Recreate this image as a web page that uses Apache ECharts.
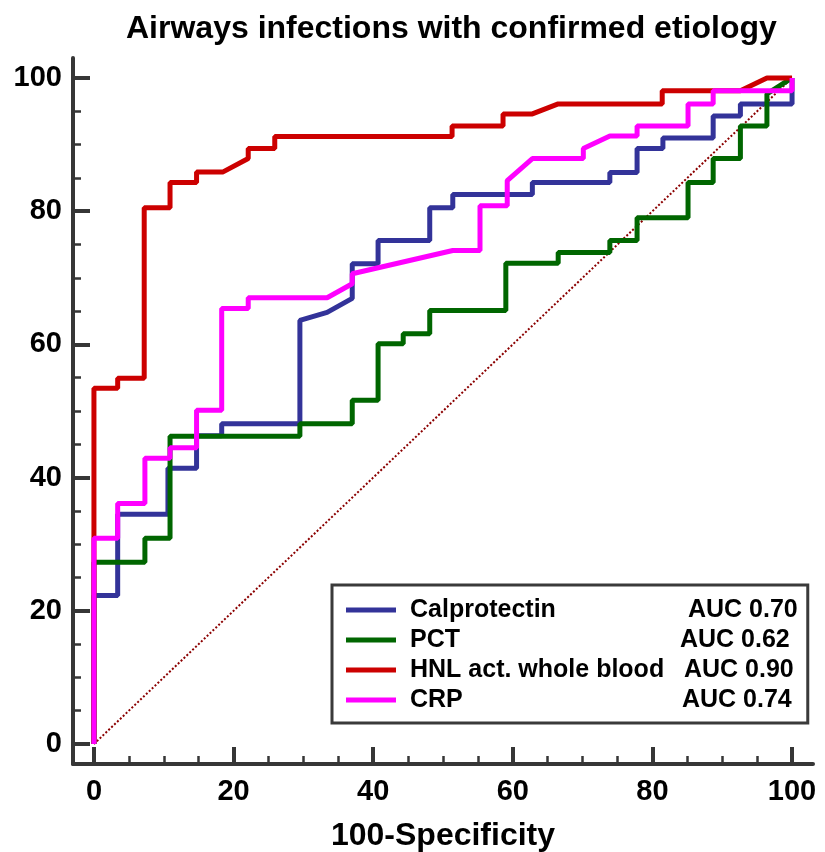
<!DOCTYPE html>
<html>
<head>
<meta charset="utf-8">
<script src="https://cdn.jsdelivr.net/npm/echarts@6/dist/echarts.min.js"></script>
<style>html,body{margin:0;padding:0;background:#fff}#c{width:825px;height:852px}</style>
</head>
<body>
<div id="c"></div>
<script>
const chartTitle = 'Airways infections with confirmed etiology';
const xAxisName = '100-Specificity';
const majorTicks = [0, 20, 40, 60, 80, 100];
const minorTicks = [5, 10, 15, 25, 30, 35, 45, 50, 55, 65, 70, 75, 85, 90, 95];
const seriesNames = ['Calprotectin', 'PCT', 'HNL act. whole blood', 'CRP'];
const aucLabels = ['AUC 0.70', 'AUC 0.62', 'AUC 0.90', 'AUC 0.74'];
const seriesColors = ['#333399', '#006600', '#cc0000', '#ff00ff'];

const calprotectin = [[0,0],[0,22.3],[3.4,22.3],[3.4,34.5],[10.6,34.5],[10.6,41.4],[14.7,41.4],[14.7,46.3],[18.3,46.3],[18.3,48.1],[29.5,48.1],[29.5,63.6],[33.4,64.8],[37.0,66.9],[37.0,72.1],[40.7,72.1],[40.7,75.6],[48.1,75.6],[48.1,80.5],[51.4,80.5],[51.4,82.5],[62.8,82.5],[62.8,84.3],[73.9,84.3],[73.9,85.8],[77.8,85.8],[77.8,89.4],[81.5,89.4],[81.5,91.0],[88.7,91.0],[88.7,94.3],[92.6,94.3],[92.6,96.1],[100,96.1],[100,100]];
const pct = [[0,0],[0,27.3],[7.3,27.3],[7.3,30.9],[10.9,30.9],[10.9,46.2],[29.5,46.2],[29.5,48.1],[37.0,48.1],[37.0,51.6],[40.7,51.6],[40.7,60.1],[44.3,60.1],[44.3,61.6],[48.1,61.6],[48.1,65.1],[59.0,65.1],[59.0,72.2],[66.5,72.2],[66.5,73.8],[73.9,73.8],[73.9,75.6],[77.8,75.6],[77.8,79.0],[85.1,79.0],[85.1,84.3],[88.7,84.3],[88.7,87.9],[92.6,87.9],[92.6,92.8],[96.4,92.8],[96.4,97.6],[100,100]];
const hnl = [[0,0],[0,53.4],[3.4,53.4],[3.4,54.9],[7.2,54.9],[7.2,80.5],[10.9,80.5],[10.9,84.3],[14.7,84.3],[14.7,85.9],[18.5,85.9],[22.1,87.9],[22.1,89.4],[25.9,89.4],[25.9,91.2],[51.3,91.2],[51.3,92.8],[58.6,92.8],[58.6,94.6],[62.8,94.6],[66.5,96.1],[81.4,96.1],[81.4,98.1],[92.6,98.1],[96.4,100],[100,100]];
const crp = [[0,0],[0,30.9],[3.4,30.9],[3.4,36.1],[7.3,36.1],[7.3,42.9],[10.9,42.9],[10.9,44.5],[14.7,44.5],[14.7,50.1],[18.3,50.1],[18.3,65.4],[22.1,65.4],[22.1,67.0],[33.4,67.0],[37.0,69.1],[37.0,70.6],[51.4,74.1],[55.3,74.1],[55.3,80.8],[59.2,80.8],[59.2,84.6],[62.8,87.9],[70.1,87.9],[70.1,89.4],[73.9,91.3],[77.8,91.3],[77.8,92.8],[85.1,92.8],[85.1,96.1],[88.7,96.1],[88.7,98.1],[100,98.1],[100,100]];
const diagonal = [[0,0],[100,100]];
const curves = [calprotectin, pct, hnl, crp];

const FONT = '"Liberation Sans", Arial, sans-serif';
const AX = '#363636';

function axisPair(kind) {
  const base = {
    type: 'value', min: -3, max: 103, splitLine: {show: false}
  };
  const major = Object.assign({}, base, {
    position: kind === 'x' ? 'bottom' : 'left',
    axisLine: {show: true, onZero: false, lineStyle: {color: AX, width: 4}},
    axisTick: {show: true, inside: true, length: 17, customValues: majorTicks, lineStyle: {color: AX, width: 4}},
    axisLabel: {show: true, customValues: majorTicks, margin: kind === 'x' ? 13 : 11, color: '#000',
      fontSize: 29, fontWeight: 'bold', fontFamily: FONT}
  });
  if (kind === 'x') {
    Object.assign(major, {name: xAxisName, nameLocation: 'middle', nameGap: 56,
      nameTextStyle: {fontSize: 32, fontWeight: 'bold', fontFamily: FONT, color: '#000'}});
  }
  const minor = Object.assign({}, base, {
    position: kind === 'x' ? 'bottom' : 'left',
    axisLine: {show: false, onZero: false},
    axisTick: {show: true, inside: true, length: 8, customValues: minorTicks, lineStyle: {color: AX, width: 2.5}},
    axisLabel: {show: false}
  });
  return [major, minor];
}

const series = curves.map((d, i) => ({
  name: seriesNames[i], type: 'line', data: d, xAxisIndex: 0, yAxisIndex: 0,
  showSymbol: false, symbol: 'none', smooth: false, animation: false,
  lineStyle: {color: seriesColors[i], width: 5},
  itemStyle: {color: seriesColors[i]}, z: 3 + i
}));
series.unshift({
  name: 'ref', type: 'line', data: diagonal, showSymbol: false, symbol: 'none', animation: false,
  lineStyle: {color: '#8b0000', width: 2, type: [2, 2]}, z: 2
});

const nameWidths = [278, 270, 274, 272];
const rich = {};
seriesNames.forEach((n, i) => {
  rich['n' + i] = {width: nameWidths[i], padding: [0, 0, 0, 9], fontFamily: FONT, fontWeight: 'bold', fontSize: 25, color: '#000'};
});
rich.a = {fontFamily: FONT, fontWeight: 'bold', fontSize: 25, color: '#000'};

const chart = echarts.init(document.getElementById('c'), null, {renderer: 'canvas'});
chart.setOption({
  backgroundColor: '#fff',
  animation: false,
  title: {text: chartTitle, left: 121, top: 8,
    textStyle: {fontSize: 32, fontWeight: 'bold', fontFamily: FONT, color: '#000'}},
  grid: {left: 73, right: 12, top: 58, bottom: 88, containLabel: false, outerBoundsMode: 'none'},
  xAxis: axisPair('x'),
  yAxis: axisPair('y'),
  legend: {
    data: seriesNames, orient: 'vertical', left: 332, top: 585,
    backgroundColor: '#fff', borderColor: '#3a3a3a', borderWidth: 3, borderRadius: 0,
    padding: [10, 10, 8, 14], itemGap: 0, itemWidth: 50, itemHeight: 5, icon: 'rect',
    selectedMode: false,
    formatter: function (name) {
      const i = seriesNames.indexOf(name);
      return '{n' + i + '|' + name + '}{a|' + aucLabels[i] + '}';
    },
    textStyle: {
      fontFamily: FONT, fontWeight: 'bold', fontSize: 25, color: '#000', lineHeight: 30,
      width: 388,
      rich: rich
    }
  },
  series: series
});
</script>
</body>
</html>
